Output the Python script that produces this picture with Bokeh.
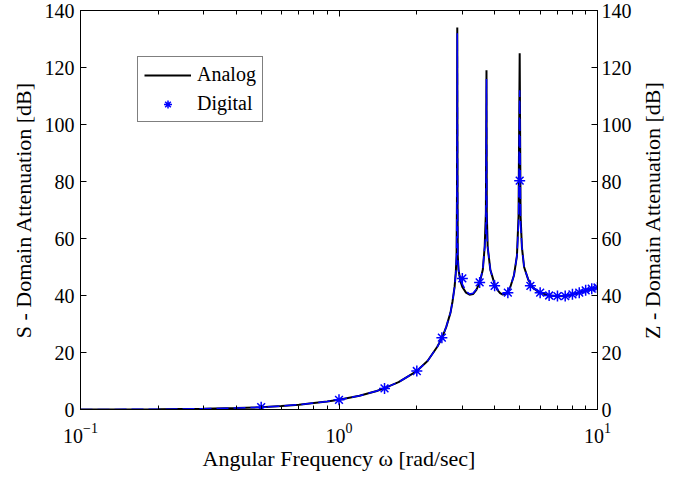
import math
from bokeh.plotting import figure
from bokeh.layouts import row
from bokeh.models import LinearAxis, LogAxis, Range1d, Legend, LegendItem, FixedTicker, LogTickFormatter
from bokeh.embed import file_html
from bokeh.resources import INLINE

# ---- data ----
analog_w = [0.1, 0.2, 0.3, 0.4, 0.5, 0.6, 0.7, 0.8, 0.9, 1.0, 1.2, 1.4, 1.5, 1.7, 2.0, 2.2, 2.4, 2.5,
            2.6, 2.7, 2.75, 2.8, 2.83, 2.85, 2.86, 2.868, 2.875, 2.88, 2.9, 2.95, 3.0, 3.1, 3.2, 3.3,
            3.4, 3.5, 3.6, 3.66, 3.7, 3.72, 3.73, 3.76, 3.85, 4.0, 4.1, 4.2, 4.3, 4.4, 4.5, 4.6, 4.75,
            4.88, 4.95, 5.0, 5.04, 5.1, 5.2, 5.4, 5.6, 5.8, 6.0, 6.5, 7.0, 7.5, 8.0, 8.5, 9.0, 9.5, 10.0]
analog_db = [0.0, 0.1, 0.3, 0.5, 0.8, 1.2, 1.7, 2.3, 2.8, 3.4, 4.8, 6.5, 7.5, 9.6, 13.5, 17.0, 22.0, 25.0,
             29.0, 34.0, 38.0, 43.0, 48.0, 54.0, 75.0, 134.0, 75.0, 54.0, 49.0, 45.0, 43.0, 41.0, 40.3, 40.5,
             42.0, 44.5, 49.0, 57.0, 69.0, 119.0, 69.0, 57.0, 49.0, 44.0, 42.0, 40.8, 40.3, 40.5, 41.5, 43.0, 47.0,
             54.0, 68.0, 125.0, 68.0, 57.0, 50.0, 45.5, 43.0, 41.8, 41.0, 40.0, 39.7, 39.8, 40.3, 41.0, 41.6, 42.2, 42.7]

digital_line_w = analog_w
digital_line_db = [0.0, 0.1, 0.3, 0.5, 0.8, 1.2, 1.7, 2.3, 2.8, 3.4, 4.8, 6.5, 7.5, 9.6, 13.5, 17.0, 22.0, 25.0,
                   29.0, 34.0, 38.0, 43.0, 48.0, 54.0, 75.0, 132.0, 75.0, 54.0, 49.0, 45.5, 44.0, 41.5, 40.5, 40.8,
                   42.2, 44.6, 49.0, 57.0, 62.0, 116.0, 62.0, 57.0, 49.0, 44.0, 42.0, 40.8, 40.5, 40.8, 41.5, 43.0, 47.0,
                   54.0, 65.0, 112.0, 65.0, 57.0, 50.0, 45.5, 43.2, 41.8, 41.0, 40.0, 39.8, 39.9, 40.4, 41.0, 41.7, 42.3, 42.8]

digital_w = [0.5, 1.0, 1.5, 2.0, 2.5, 3.0, 3.5, 4.0, 4.5, 5.0, 5.5, 6.0, 6.5, 7.0, 7.5, 8.0, 8.5, 9.0, 9.5, 10.0]
digital_db = [0.8, 3.4, 7.4, 13.5, 25.2, 46.0, 44.6, 43.4, 41.0, 80.3, 43.4, 41.0, 40.0, 39.8, 39.8, 40.4, 41.0,
              41.8, 42.4, 42.8]

y_ticks = [0, 20, 40, 60, 80, 100, 120, 140]
x_ticks = [0.1, 1, 10]
x_minor = [0.2, 0.3, 0.4, 0.5, 0.6, 0.7, 0.8, 0.9, 2, 3, 4, 5, 6, 7, 8, 9]

FONT = "Liberation Serif"

p = figure(x_axis_type="log", x_range=Range1d(0.1, 10), y_range=Range1d(0, 140),
           width=634, height=473,
           min_border_left=80, min_border_right=36, min_border_top=10, min_border_bottom=63,
           output_backend="svg", toolbar_location=None)
p.grid.visible = False
p.outline_line_color = "black"
p.background_fill_color = "white"
p.border_fill_color = "white"

r_an = p.line(analog_w, analog_db, line_color="black", line_width=2)
p.line(digital_line_w, digital_line_db, line_color="#0000ff", line_width=1.5, line_dash="12 5")
r_dg = p.scatter(digital_w, digital_db, marker="asterisk", size=11, line_color="#0000ff", line_width=1.5)

def style(ax):
    ax.axis_line_color = "black"
    ax.major_tick_line_color = "black"
    ax.minor_tick_line_color = "black"
    ax.major_tick_in = 6
    ax.major_tick_out = 0
    ax.minor_tick_in = 4
    ax.minor_tick_out = 0
    ax.major_label_text_font = FONT
    ax.major_label_text_font_size = "20px"
    ax.major_label_text_color = "black"
    ax.axis_label_text_font = FONT
    ax.axis_label_text_font_size = "22px"
    ax.axis_label_text_font_style = "normal"
    ax.axis_label_text_color = "black"

xb = p.xaxis[0]
style(xb)
xb.ticker = FixedTicker(ticks=x_ticks, minor_ticks=x_minor)
xb.formatter = LogTickFormatter(min_exponent=0)
xb.axis_label = "Angular Frequency \u03c9 [rad/sec]"
xb.major_label_standoff = 13
xb.axis_label_standoff = 0

yl = p.yaxis[0]
style(yl)
yl.ticker = FixedTicker(ticks=y_ticks, minor_ticks=[])
yl.axis_label = "S - Domain Attenuation [dB]"
yl.major_label_standoff = 6
yl.axis_label_standoff = 6

yr = LinearAxis(ticker=FixedTicker(ticks=y_ticks, minor_ticks=[]))
style(yr)
yr.major_label_standoff = 4
p.add_layout(yr, "right")

xt = LogAxis(ticker=FixedTicker(ticks=x_ticks, minor_ticks=x_minor))
style(xt)
xt.major_label_overrides = {0.1: "", 1: "", 10: ""}
xt.major_label_text_font_size = "1px"
xt.major_label_standoff = 0
p.add_layout(xt, "above")

legend = Legend(items=[LegendItem(label="Analog", renderers=[r_an]),
                       LegendItem(label="Digital", renderers=[r_dg])],
                location=(57, 287))
legend.label_text_font = FONT
legend.label_text_font_size = "20px"
legend.label_text_color = "black"
legend.border_line_color = "black"
legend.border_line_width = 1
legend.glyph_width = 47
legend.glyph_height = 20
legend.label_standoff = 6
legend.spacing = 6
legend.padding = 6
legend.margin = 0
legend.background_fill_alpha = 1
p.add_layout(legend, "center")

# narrow companion figure carrying the right-hand axis title (reads bottom-to-top)
p2 = figure(width=45, height=473, x_range=Range1d(0, 1), y_range=Range1d(0, 140),
            min_border_left=30, min_border_right=0, min_border_top=2, min_border_bottom=63,
            output_backend="svg", toolbar_location=None)
p2.grid.visible = False
p2.outline_line_color = None
p2.xaxis.visible = False
ya2 = p2.yaxis[0]
ya2.ticker = FixedTicker(ticks=[], minor_ticks=[])
ya2.axis_line_color = None
ya2.major_tick_line_color = None
ya2.minor_tick_line_color = None
ya2.major_label_standoff = 0
ya2.axis_label = "Z - Domain Attenuation [dB]"
ya2.axis_label_standoff = 0
ya2.axis_label_text_font = FONT
ya2.axis_label_text_font_size = "22px"
ya2.axis_label_text_font_style = "normal"
ya2.axis_label_text_color = "black"

layout = row(p, p2, spacing=0)
open("out.html", "w").write(file_html(layout, INLINE))
